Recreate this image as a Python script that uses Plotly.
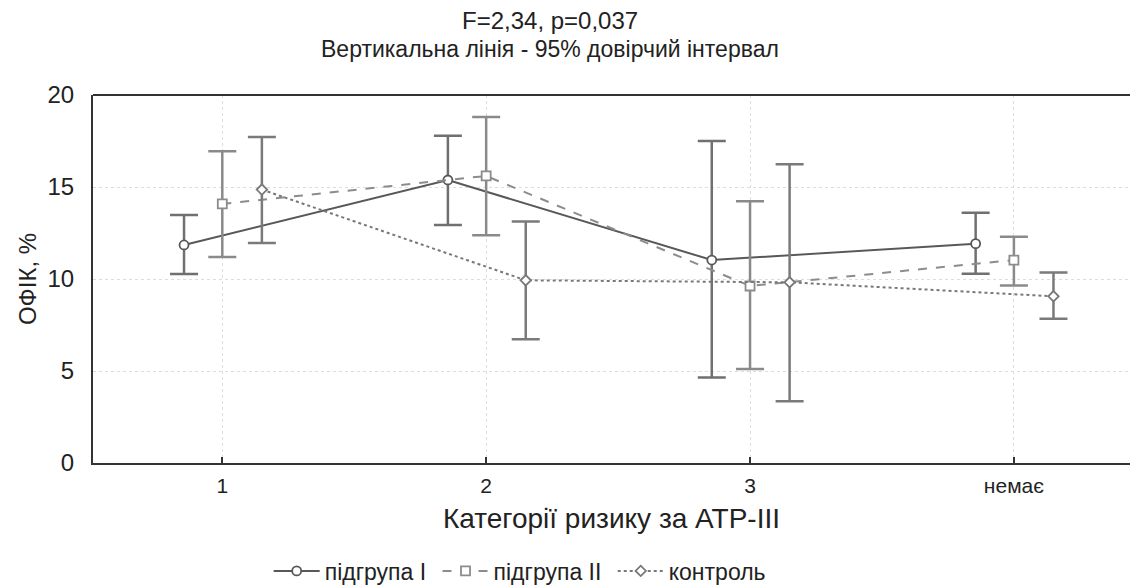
import plotly.graph_objects as go

categories = ["1", "2", "3", "немає"]
series_names = ["підгрупа I", "підгрупа II", "контроль"]

sub1_mean = [11.85, 15.38, 11.03, 11.92]
sub1_upper = [13.48, 17.79, 17.50, 13.60]
sub1_lower = [10.27, 12.93, 4.64, 10.29]

sub2_mean = [14.08, 15.60, 9.62, 11.03]
sub2_upper = [16.94, 18.80, 14.22, 12.30]
sub2_lower = [11.20, 12.38, 5.11, 9.64]

ctrl_mean = [14.86, 9.93, 9.82, 9.06]
ctrl_upper = [17.72, 13.13, 16.23, 10.36]
ctrl_lower = [11.96, 6.72, 3.35, 7.84]

offsets = [-0.145, 0.0, 0.15]
line_colors = ["#585858", "#8c8c8c", "#787878"]
err_colors = ["#707070", "#8a8a8a", "#7a7a7a"]
dashes = ["solid", "dash", "dot"]
symbols = ["circle", "square", "diamond"]
msizes = [9, 9, 8]

data = [
    (sub1_mean, sub1_upper, sub1_lower),
    (sub2_mean, sub2_upper, sub2_lower),
    (ctrl_mean, ctrl_upper, ctrl_lower),
]

fig = go.Figure()
for i, (m, u, l) in enumerate(data):
    xs = [k + offsets[i] for k in range(len(categories))]
    fig.add_trace(go.Scatter(
        x=xs, y=m, name=series_names[i] + "\u00a0", mode="lines+markers",
        line=dict(color=line_colors[i], width=2, dash=dashes[i]),
        marker=dict(symbol=symbols[i], size=msizes[i], color="white",
                    line=dict(width=1.8, color=line_colors[i])),
        error_y=dict(type="data", symmetric=False,
                     array=[a - b for a, b in zip(u, m)],
                     arrayminus=[b - c for b, c in zip(m, l)],
                     color=err_colors[i], thickness=2.5, width=14),
    ))

fig.update_layout(
    width=1130, height=588,
    margin=dict(l=93, r=0, t=95, b=125),
    paper_bgcolor="white", plot_bgcolor="white",
    font=dict(family="Liberation Sans, Arial, sans-serif", color="#222222"),
    showlegend=True,
    legend=dict(orientation="h", xref="container", yref="container",
                x=0.463, xanchor="center", y=0.029, yanchor="middle",
                font=dict(size=23, color="#222222"), itemwidth=46),
    shapes=[dict(type="line", xref="paper", yref="paper", x0=0, x1=1, y0=1, y1=1,
                 line=dict(color="#333333", width=2))],
    annotations=[
        dict(text="F=2,34, p=0,037", xref="paper", yref="paper",
             x=(550 - 93) / 1037, y=1 + (95 - 20) / 368, showarrow=False,
             font=dict(size=24, color="#222222"), xanchor="center", yanchor="middle"),
        dict(text="Вертикальна лінія - 95% довірчий інтервал", xref="paper", yref="paper",
             x=(550 - 93) / 1037, y=1 + (95 - 49) / 368, showarrow=False,
             font=dict(size=23, color="#222222"), xanchor="center", yanchor="middle"),
    ],
)

fig.update_xaxes(
    range=[-0.49, 3.44], tickmode="array", tickvals=list(range(len(categories))),
    ticktext=categories, showgrid=True, gridcolor="#dddddd", griddash="dot", gridwidth=1,
    showline=True, linecolor="#333333", linewidth=2, mirror=False,
    ticks="inside", ticklen=6, tickcolor="#333333", tickwidth=2,
    tickfont=dict(size=21), zeroline=False, ticklabelstandoff=3,
    title=dict(text="Категорії ризику за АТР-ІІІ", font=dict(size=28), standoff=12),
)
fig.update_yaxes(
    range=[0, 20], tickvals=[0, 5, 10, 15, 20], showgrid=True, gridcolor="#dddddd",
    griddash="dot", gridwidth=1, showline=True, linecolor="#333333", linewidth=2,
    ticks="", tickfont=dict(size=24), zeroline=False, ticklabelstandoff=12,
    title=dict(text="ОФІК, %", font=dict(size=24), standoff=4),
)

fig.write_html("out.html")
